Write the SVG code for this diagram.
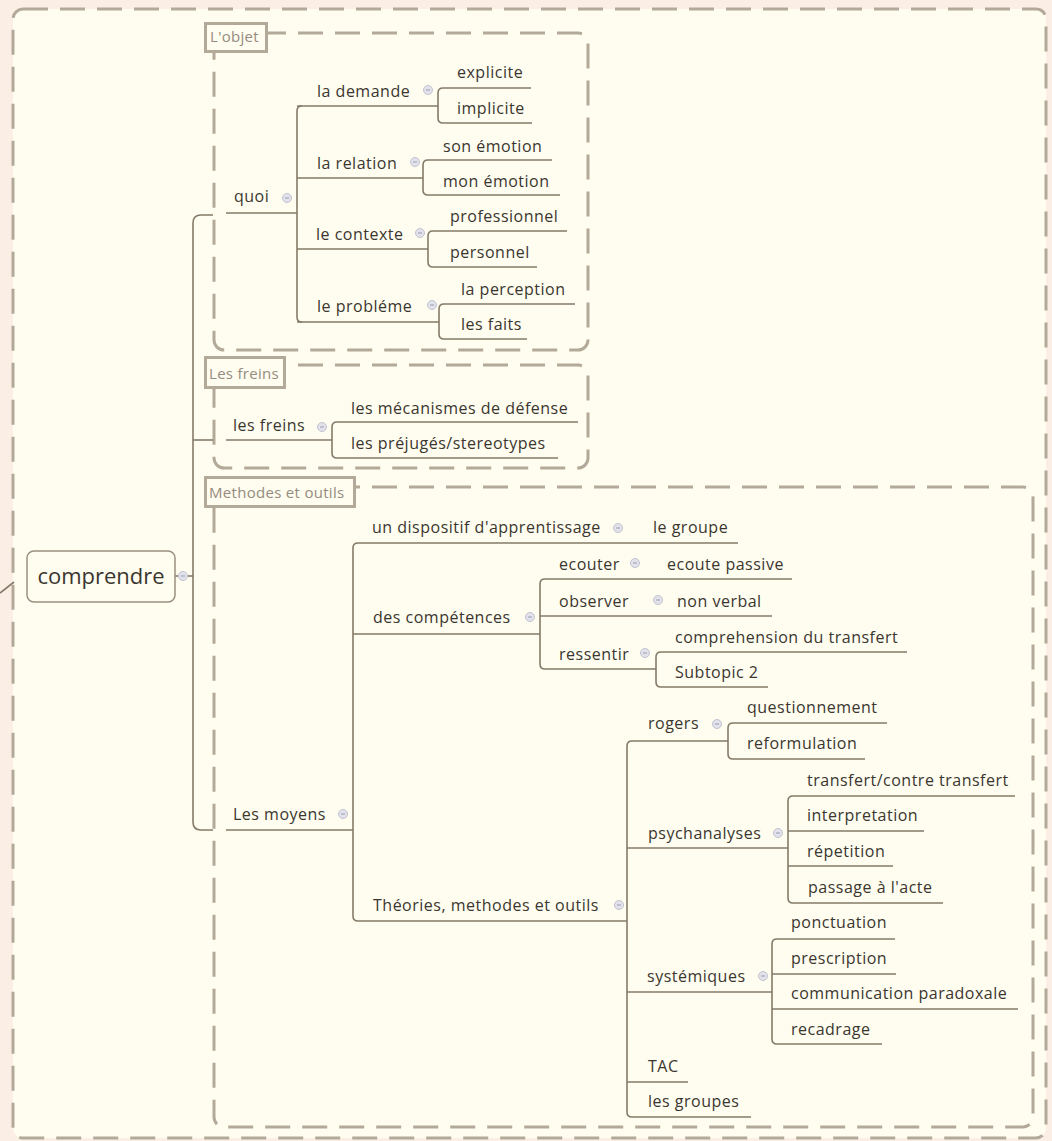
<svg xmlns="http://www.w3.org/2000/svg" xmlns:xlink="http://www.w3.org/1999/xlink" width="1052" height="1141" viewBox="0 0 1052 1141">
<style>
.t{font-family:"Open Sans","Noto Sans","DejaVu Sans",sans-serif;font-size:16px;fill:#3b362f;letter-spacing:.5px}
.r{font-family:"Open Sans","Noto Sans","DejaVu Sans",sans-serif;font-size:22px;fill:#3b362f}
.lt{font-family:"Open Sans","Noto Sans","DejaVu Sans",sans-serif;font-size:15px;fill:#968b80;letter-spacing:.3px}
.u,.c{stroke:#857a69;stroke-width:1.6;fill:none}
.b{fill:none;stroke:#b3a999;stroke-width:3;stroke-dasharray:25 12}
.lb{fill:#fefdef;stroke:#b3a999;stroke-width:3}
</style>
<defs>
<g id="btn"><circle r="4.5" fill="#e2e2ea" stroke="#c2c2d2" stroke-width="1"/><line x1="-2" y1="0" x2="2" y2="0" stroke="#9a9ab2" stroke-width="1"/></g>
</defs>
<rect width="1052" height="1141" fill="#fbefe5"/>
<rect x="13" y="9" width="1033" height="1129" rx="10" fill="#fefdef"/>
<line x1="0" y1="593" x2="14" y2="582" class="c"/>
<rect x="13" y="9" width="1033" height="1129" rx="10" class="b"/>

<g id="boundaries">
<rect x="214" y="33" width="374" height="317" rx="10" class="b"/>
<rect x="214" y="365" width="374" height="103" rx="10" class="b"/>
<rect x="214" y="487" width="819" height="640" rx="10" class="b"/>
<g id="lbl-objet"><rect x="205.5" y="23.5" width="61" height="28" class="lb"/><text x="210" y="42" class="lt">L'objet</text></g>
<g id="lbl-freins"><rect x="205.5" y="357.5" width="79" height="30" class="lb"/><text x="209" y="379" class="lt">Les freins</text></g>
<g id="lbl-methodes"><rect x="205.5" y="477.5" width="149" height="29" class="lb"/><text x="209" y="498" class="lt">Methodes et outils</text></g>
</g>

<g id="connectors">
<path class="c" d="M175 576 L193 576"/>
<path class="c" d="M213 215 L201 215 Q193 215 193 223 L193 822 Q193 830 201 830 L213 830"/>
<path class="c" d="M193 440 L213 440"/>
<path class="c" d="M302 106 Q297 106 297 111 L297 317 Q297 322 302 322"/>
<path class="c" d="M443 88 Q438 88 438 93 L438 118 Q438 123 443 123"/>
<path class="c" d="M428 160 Q423 160 423 165 L423 190 Q423 195 428 195"/>
<path class="c" d="M433 231 Q428 231 428 236 L428 262 Q428 267 433 267"/>
<path class="c" d="M444 304 Q439 304 439 309 L439 334 Q439 339 444 339"/>
<path class="c" d="M337 422 Q332 422 332 427 L332 453 Q332 458 337 458"/>
<path class="c" d="M358 543 Q353 543 353 548 L353 916 Q353 921 358 921"/>
<path class="c" d="M545 579 Q540 579 540 584 L540 664 Q540 669 545 669"/>
<path class="c" d="M661 652 Q656 652 656 657 L656 682 Q656 687 661 687"/>
<path class="c" d="M632 741 Q627 741 627 746 L627 1112 Q627 1117 632 1117"/>
<path class="c" d="M733 723 Q728 723 728 728 L728 754 Q728 759 733 759"/>
<path class="c" d="M793 796 Q788 796 788 801 L788 898 Q788 903 793 903"/>
<path class="c" d="M777 939 Q772 939 772 944 L772 1039 Q772 1044 777 1044"/>
</g>

<g id="n-comprendre"><rect x="27" y="551" width="148" height="51" rx="7" fill="#fefdef" stroke="#9a8f80" stroke-width="1.5"/><text x="101" y="584" text-anchor="middle" class="r">comprendre</text><use href="#btn" x="183" y="576"/></g>

<g id="n-quoi"><text x="234" y="202" class="t">quoi</text><path class="u" d="M226 213H297"/><use href="#btn" x="287" y="198"/></g>
<g id="n-demande"><text x="317" y="97" class="t">la demande</text><path class="u" d="M297 106H438"/><use href="#btn" x="428" y="90"/></g>
<g id="n-explicite"><text x="457" y="78" class="t">explicite</text><path class="u" d="M443 88H531"/></g>
<g id="n-implicite"><text x="457" y="114" class="t">implicite</text><path class="u" d="M443 123H532"/></g>
<g id="n-relation"><text x="317" y="169" class="t">la relation</text><path class="u" d="M297 178H423"/><use href="#btn" x="415" y="162"/></g>
<g id="n-son"><text x="443" y="152" class="t">son émotion</text><path class="u" d="M428 160H552"/></g>
<g id="n-mon"><text x="443" y="187" class="t">mon émotion</text><path class="u" d="M428 195H560"/></g>
<g id="n-contexte"><text x="316" y="240" class="t">le contexte</text><path class="u" d="M297 249H428"/><use href="#btn" x="420" y="233"/></g>
<g id="n-pro"><text x="450" y="222" class="t">professionnel</text><path class="u" d="M433 231H567"/></g>
<g id="n-perso"><text x="450" y="258" class="t">personnel</text><path class="u" d="M433 267H537"/></g>
<g id="n-probleme"><text x="317" y="312" class="t">le probléme</text><path class="u" d="M297 322H439"/><use href="#btn" x="432" y="305"/></g>
<g id="n-perception"><text x="461" y="295" class="t">la perception</text><path class="u" d="M444 304H575"/></g>
<g id="n-faits"><text x="461" y="330" class="t">les faits</text><path class="u" d="M444 339H527"/></g>

<g id="n-freins"><text x="233" y="431" class="t">les freins</text><path class="u" d="M226 440H332"/><use href="#btn" x="322" y="427"/></g>
<g id="n-mecanismes"><text x="351" y="414" class="t">les mécanismes de défense</text><path class="u" d="M337 422H578"/></g>
<g id="n-prejuges"><text x="351" y="449" class="t">les préjugés/stereotypes</text><path class="u" d="M337 458H558"/></g>

<g id="n-moyens"><text x="233" y="820" class="t">Les moyens</text><path class="u" d="M226 830H353"/><use href="#btn" x="343" y="814"/></g>
<g id="n-dispositif"><text x="372" y="533" class="t">un dispositif d'apprentissage</text><path class="u" d="M358 543H627"/><use href="#btn" x="618" y="528"/></g>
<g id="n-groupe"><text x="653" y="533" class="t">le groupe</text><path class="u" d="M627 543H738"/></g>
<g id="n-competences"><text x="373" y="623" class="t">des compétences</text><path class="u" d="M353 634H540"/><use href="#btn" x="530" y="617"/></g>
<g id="n-ecouter"><text x="559" y="570" class="t">ecouter</text><path class="u" d="M545 579H647"/><use href="#btn" x="635" y="563"/></g>
<g id="n-passive"><text x="667" y="570" class="t">ecoute passive</text><path class="u" d="M647 579H792"/></g>
<g id="n-observer"><text x="559" y="607" class="t">observer</text><path class="u" d="M540 616H668"/><use href="#btn" x="658" y="600"/></g>
<g id="n-nonverbal"><text x="677" y="607" class="t">non verbal</text><path class="u" d="M668 616H772"/></g>
<g id="n-ressentir"><text x="559" y="660" class="t">ressentir</text><path class="u" d="M545 669H656"/><use href="#btn" x="645" y="653"/></g>
<g id="n-comprehension"><text x="675" y="643" class="t">comprehension du transfert</text><path class="u" d="M661 652H907"/></g>
<g id="n-subtopic"><text x="675" y="678" class="t">Subtopic 2</text><path class="u" d="M661 687H768"/></g>

<g id="n-theories"><text x="373" y="911" class="t">Théories, methodes et outils</text><path class="u" d="M358 921H627"/><use href="#btn" x="619" y="905"/></g>
<g id="n-rogers"><text x="648" y="729" class="t">rogers</text><path class="u" d="M632 741H728"/><use href="#btn" x="717" y="724"/></g>
<g id="n-question"><text x="747" y="713" class="t">questionnement</text><path class="u" d="M733 723H887"/></g>
<g id="n-reform"><text x="747" y="749" class="t">reformulation</text><path class="u" d="M733 759H865"/></g>
<g id="n-psych"><text x="648" y="839" class="t">psychanalyses</text><path class="u" d="M627 848H788"/><use href="#btn" x="778" y="833"/></g>
<g id="n-transfert"><text x="807" y="786" class="t">transfert/contre transfert</text><path class="u" d="M793 796H1015"/></g>
<g id="n-interp"><text x="807" y="821" class="t">interpretation</text><path class="u" d="M788 831H924"/></g>
<g id="n-repet"><text x="807" y="857" class="t">répetition</text><path class="u" d="M788 866H893"/></g>
<g id="n-passage"><text x="808" y="893" class="t">passage à l'acte</text><path class="u" d="M793 903H943"/></g>
<g id="n-systemiques"><text x="647" y="982" class="t">systémiques</text><path class="u" d="M627 992H772"/><use href="#btn" x="763" y="976"/></g>
<g id="n-ponct"><text x="791" y="928" class="t">ponctuation</text><path class="u" d="M777 939H895"/></g>
<g id="n-prescr"><text x="791" y="964" class="t">prescription</text><path class="u" d="M772 974H896"/></g>
<g id="n-paradox"><text x="791" y="999" class="t">communication paradoxale</text><path class="u" d="M772 1009H1018"/></g>
<g id="n-recadrage"><text x="791" y="1035" class="t">recadrage</text><path class="u" d="M777 1044H882"/></g>
<g id="n-tac"><text x="648" y="1072" class="t">TAC</text><path class="u" d="M627 1082H688"/></g>
<g id="n-groupes"><text x="648" y="1107" class="t">les groupes</text><path class="u" d="M632 1117H751"/></g>
</svg>
